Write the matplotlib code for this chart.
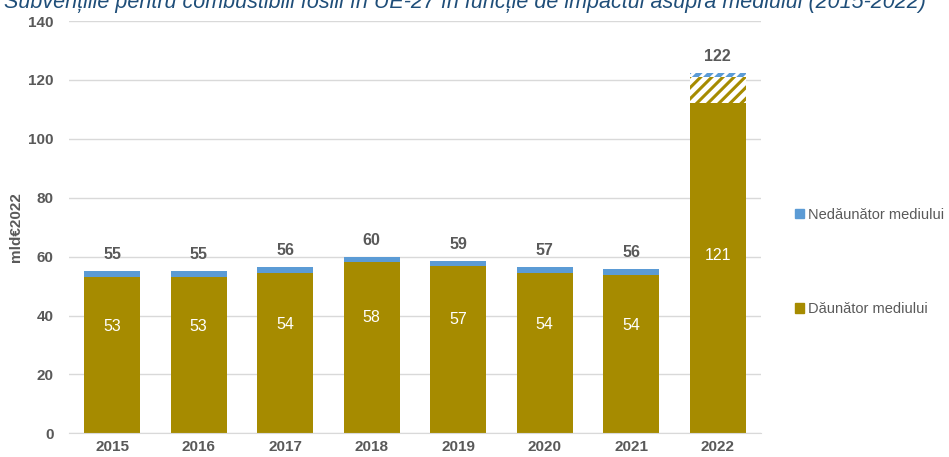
import matplotlib.pyplot as plt
import matplotlib.patches as mpatches
import numpy as np

# date (mld EUR 2022)
years = ['2015', '2016', '2017', '2018', '2019', '2020', '2021', '2022']
daunator = [53.2, 53.2, 54.4, 58.0, 56.9, 54.4, 53.9, 112.1]
daunator_hasurat = [0, 0, 0, 0, 0, 0, 0, 8.8]
nedaunator = [1.8, 1.8, 2.0, 1.8, 1.7, 2.2, 2.0, 1.5]

OLIVE = '#A68B00'
BLUE = '#5B9BD5'
GREY = '#595959'

plt.rcParams['font.family'] = ['Liberation Sans', 'DejaVu Sans']
plt.rcParams['hatch.linewidth'] = 2.2

fig = plt.figure(figsize=(9.49, 4.57), dpi=100)
ax = fig.add_axes([69 / 949, 1 - 433.3 / 457, 692 / 949, 412.3 / 457])

x = np.arange(len(years))
d = np.array(daunator)
dh = np.array(daunator_hasurat)
n = np.array(nedaunator)
w = 0.65

ax.bar(x, d, w, color=OLIVE, edgecolor='none', zorder=2)
ax.bar(x, dh, w, bottom=d, facecolor='white', edgecolor=OLIVE, hatch='///',
       linewidth=0, zorder=2)
blue_bars = ax.bar(x, n, w, bottom=d + dh, color=BLUE, edgecolor='none', zorder=2)
# segmentul 2022 are si el hasura
blue_bars[-1].set_hatch('///')
blue_bars[-1].set_edgecolor('white')
blue_bars[-1].set_linewidth(0)

tot_d = d + dh
tot = tot_d + n
for i in range(len(years)):
    frac = 0.5 if dh[i] > 0 else 0.68
    ax.text(x[i], tot_d[i] * frac, f"{round(tot_d[i])}", ha='center', va='center',
            color='white', fontsize=11.5, zorder=3)
    ax.text(x[i], tot[i] + 3.0, f"{round(tot[i])}", ha='center', va='bottom',
            color=GREY, fontsize=11.5, fontweight='bold', zorder=3)

ax.set_xlim(-0.5, len(years) - 0.5)
ax.set_ylim(0, 140)
ax.set_yticks(range(0, 141, 20))
ax.set_xticks(x)
ax.set_xticklabels(years)
ax.grid(axis='y', color='#D9D9D9', linewidth=1, zorder=0)
ax.set_axisbelow(True)
for s in ['top', 'right', 'left']:
    ax.spines[s].set_visible(False)
ax.spines['bottom'].set_color('#D9D9D9')
ax.tick_params(axis='both', length=0, colors=GREY, labelsize=11)
for lab in ax.get_xticklabels() + ax.get_yticklabels():
    lab.set_fontweight('bold')
ax.tick_params(axis='y', pad=11)
ax.tick_params(axis='x', pad=5)
ax.set_ylabel('mld€2022', color=GREY, fontsize=11, fontweight='bold', labelpad=4)

handles = [mpatches.Patch(color=BLUE, label='Nedăunător mediului'),
           mpatches.Patch(color=OLIVE, label='Dăunător mediului')]
fig.legend(handles=handles, loc='upper left', bbox_to_anchor=(795 / 949, 1 - 208 / 457),
           frameon=False, fontsize=10.5, labelcolor=GREY, labelspacing=5.5,
           handlelength=0.6, handleheight=0.6, handletextpad=0.3,
           borderpad=0, borderaxespad=0)

fig.text(0.004, 1 - 8 / 457,
         'Subvențiile pentru combustibili fosili în UE-27 în funcție de impactul asupra mediului (2015-2022)',
         ha='left', va='baseline', color='#1F4E79', fontsize=15.5, style='italic')

fig.savefig('out.png', dpi=100)
